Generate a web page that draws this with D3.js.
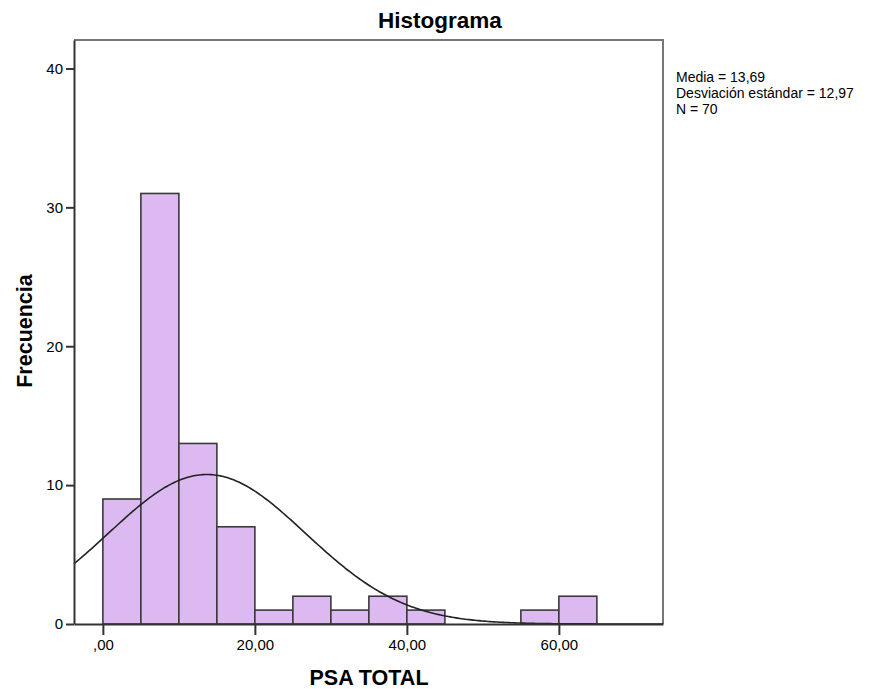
<!DOCTYPE html>
<html>
<head>
<meta charset="utf-8">
<script src="https://cdn.jsdelivr.net/npm/d3@7"></script>
<style>
  body { margin: 0; background: #fff; }
  svg text { font-family: "Liberation Sans", Arial, sans-serif; fill: #000; }
</style>
</head>
<body>
<div id="chart"></div>
<script>
// histogram bins (lower edge, width 5) and counts
const binStarts = [0, 5, 10, 15, 20, 25, 30, 35, 40, 45, 50, 55, 60];
const binCounts = [9, 31, 13, 7, 1, 2, 1, 2, 1, 0, 0, 1, 2];
const binWidth = 5;
const xTicks = [0, 20, 40, 60];
const yTicks = [0, 10, 20, 30, 40];
const statLines = ["Media = 13,69", "Desviación estándar = 12,97", "N = 70"];
const mean = 13.69;
const sd = 12.97;
const n = 70;

const width = 875;
const height = 689;
const plotLeft = 74, plotRight = 663, plotTop = 40, plotBottom = 624;

const svg = d3.select("#chart").append("svg")
    .attr("width", width)
    .attr("height", height);

const x = d3.scaleLinear().domain([-3.8, 73.7]).range([plotLeft, plotRight]);
const y = d3.scaleLinear().domain([0, 42.05]).range([plotBottom, plotTop]);

// frame: top and right edges
svg.append("path")
    .attr("d", `M${plotLeft},${plotTop}H${plotRight}V${plotBottom}`)
    .attr("fill", "none")
    .attr("stroke", "#777")
    .attr("stroke-width", 2);

// bars
svg.append("g").selectAll("rect")
    .data(binStarts.map((s, i) => ({ s, c: binCounts[i] })).filter(d => d.c > 0))
    .join("rect")
    .attr("x", d => x(d.s))
    .attr("y", d => y(d.c))
    .attr("width", d => x(d.s + binWidth) - x(d.s))
    .attr("height", d => y(0) - y(d.c))
    .attr("fill", "#dcb9f1")
    .attr("stroke", "#3a3a3a")
    .attr("stroke-width", 1.6);

// normal curve from the shown statistics
const curveXs = d3.range(-3.8, 73.7 + 0.01, 0.25);
const dens = v => n * binWidth / (sd * Math.sqrt(2 * Math.PI)) * Math.exp(-0.5 * ((v - mean) / sd) ** 2);
svg.append("path")
    .datum(curveXs)
    .attr("fill", "none")
    .attr("stroke", "#222")
    .attr("stroke-width", 1.6)
    .attr("d", d3.line().x(d => x(d)).y(d => y(dens(d))));

// axes
const xAxis = svg.append("g")
    .attr("transform", `translate(0,${plotBottom})`)
    .call(d3.axisBottom(x).tickValues(xTicks).tickSize(11).tickSizeOuter(0)
        .tickFormat(d => d === 0 ? ",00" : `${d},00`));
xAxis.select(".domain").attr("stroke", "#333").attr("stroke-width", 2);
xAxis.selectAll(".tick line").attr("stroke", "#333").attr("stroke-width", 2);
xAxis.selectAll("text").attr("font-size", 15).attr("y", 26).attr("dy", 0);

const yAxis = svg.append("g")
    .attr("transform", `translate(${plotLeft},0)`)
    .call(d3.axisLeft(y).tickValues(yTicks).tickSize(8).tickSizeOuter(0));
yAxis.select(".domain").attr("stroke", "#333").attr("stroke-width", 2);
yAxis.selectAll(".tick line").attr("stroke", "#333").attr("stroke-width", 2);
yAxis.selectAll("text").attr("font-size", 15).attr("x", -11);

// titles
svg.append("text")
    .attr("x", 440).attr("y", 28)
    .attr("text-anchor", "middle")
    .attr("font-size", 22.5).attr("font-weight", "bold")
    .text("Histograma");

svg.append("text")
    .attr("x", 369).attr("y", 685)
    .attr("text-anchor", "middle")
    .attr("font-size", 21.5).attr("font-weight", "bold")
    .text("PSA TOTAL");

svg.append("text")
    .attr("transform", "translate(32,331) rotate(-90)")
    .attr("text-anchor", "middle")
    .attr("font-size", 21.5).attr("font-weight", "bold")
    .text("Frecuencia");

// stats box text
svg.append("g").selectAll("text")
    .data(statLines)
    .join("text")
    .attr("x", 676)
    .attr("y", (d, i) => 82 + i * 16)
    .attr("font-size", 14)
    .text(d => d);
</script>
</body>
</html>
